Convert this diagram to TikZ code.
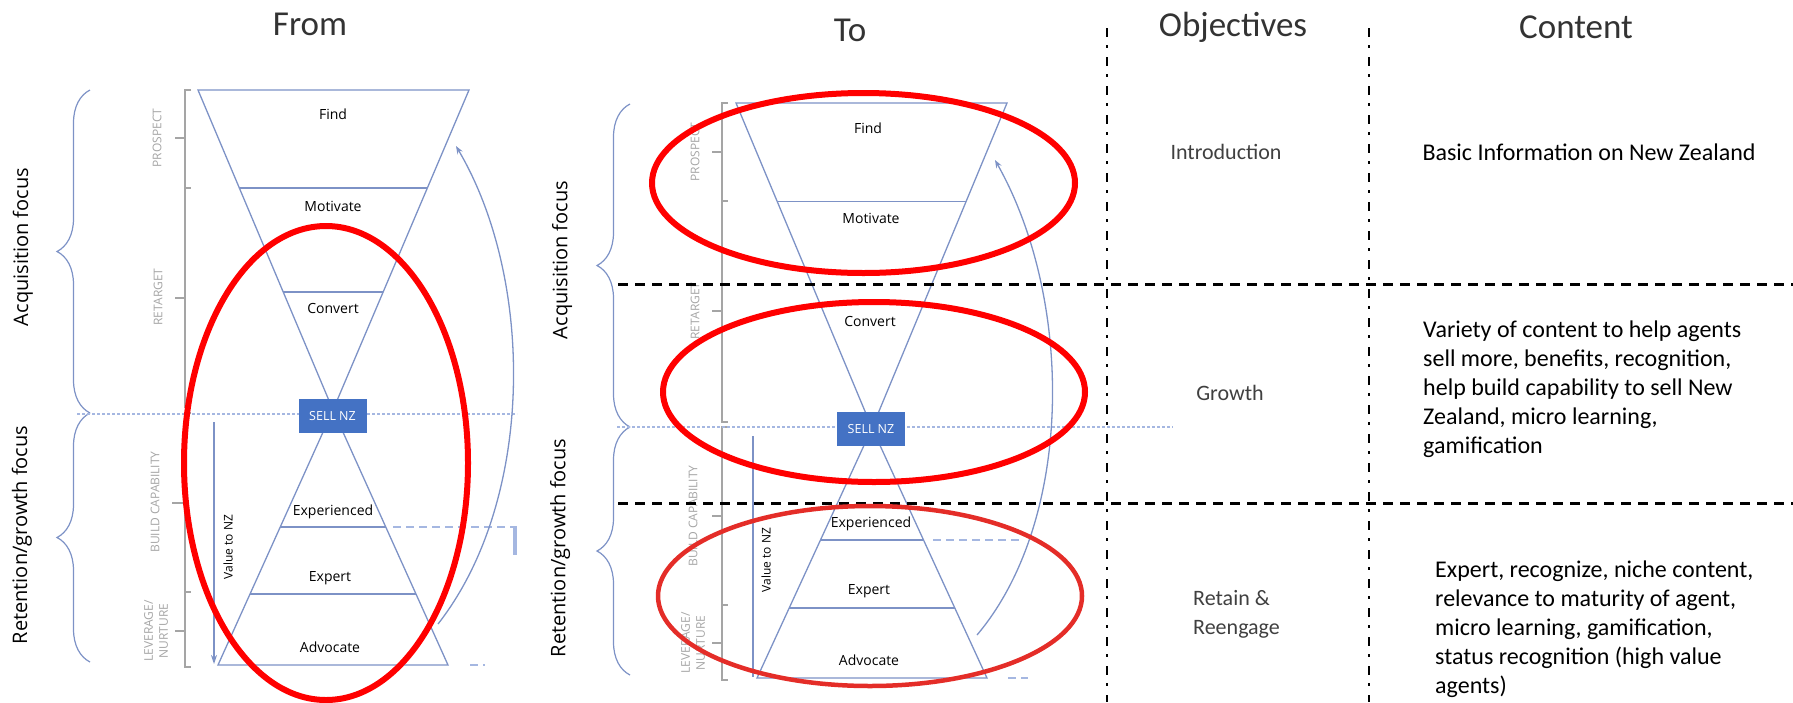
\documentclass[tikz,border=0pt]{standalone}
\usepackage{fontspec}
\setmainfont{Open Sans}
\newfontfamily\carl{Carlito}
\usetikzlibrary{calc,decorations.pathreplacing,arrows.meta}
\definecolor{funblue}{RGB}{125,146,198}
\definecolor{sellblue}{RGB}{68,114,196}
\definecolor{stagegray}{RGB}{165,165,165}
\definecolor{dotblue}{RGB}{165,183,225}
\definecolor{ringred}{RGB}{255,0,0}
\definecolor{ringred2}{RGB}{228,45,40}
\begin{document}
\begin{tikzpicture}[x=1pt,y=-1pt,
  funline/.style={draw=funblue, line width=1.3pt},
  backarrow/.style={draw=funblue, line width=1.3pt, -{Stealth[length=8pt,width=6pt]}},
  stagebar/.style={draw=stagegray, line width=1.2pt},
  stagetxt/.style={text=stagegray, font=\fontsize{12}{15}\selectfont, rotate=90, align=center, inner sep=0pt},
  steplbl/.style={font=\fontsize{14}{17}\selectfont, inner sep=0pt},
  focustxt/.style={font=\fontsize{20}{24}\selectfont, rotate=90, inner sep=0pt},
  focusbrace/.style={draw=funblue, line width=1.2pt, decorate, decoration={brace, amplitude=33pt}},
  sellbox/.style={fill=sellblue, text=white, minimum width=68pt, minimum height=34pt, inner sep=0pt, font=\fontsize{12.5}{15}\selectfont},
  valuetxt/.style={font=\fontsize{12}{15}\selectfont, rotate=90, inner sep=0pt},
  sellline/.style={draw=dotblue, line width=1.2pt, dash pattern=on 3pt off 2pt},
  levelline/.style={draw=dotblue, line width=1.5pt, dash pattern=on 8pt off 5pt},
  ring/.style={draw=ringred, line width=6pt},
  gridline/.style={draw=black, line width=3pt, dash pattern=on 10pt off 7pt},
  colline/.style={draw=black, line width=2.5pt, dash pattern=on 9pt off 8pt on 3pt off 9pt},
  header/.style={font=\carl\fontsize{35}{40}\selectfont, text=black!80, inner sep=0pt},
  objtxt/.style={font=\carl\fontsize{22}{29}\selectfont, text=black!75, align=left, inner sep=0pt},
  contenttxt/.style={font=\carl\fontsize{24}{29}\selectfont, align=left, inner sep=0pt}]
\useasboundingbox (0,0) rectangle (1793,702);

\node[header] (hfrom) at (310,24) {From};
\node[header] (hto) at (850,30) {To};
\node[header] (hobj) at (1233,27) {Objectives};
\node[header] (hcont) at (1576,27) {Content};

\draw[focusbrace] (90,413) -- (90,90);
\draw[focusbrace] (90,662) -- (90,413);
\node[focustxt] (facq) at (23,247) {Acquisition focus};
\node[focustxt] (fret) at (22,535) {Retention/growth focus};

\draw[stagebar] (191,90) -- (185,90) -- (185,407) -- (191,407);
\draw[stagebar] (185,188) -- (191,188);
\draw[stagebar] (175,138) -- (185,138);
\draw[stagebar] (175,298) -- (185,298);
\draw[stagebar] (191,413) -- (185,413) -- (185,667) -- (191,667);
\draw[stagebar] (185,592) -- (191,592);
\draw[stagebar] (172,503) -- (185,503);
\draw[stagebar] (175,631) -- (185,631);
\node[stagetxt] (fpros) at (157,138) {PROSPECT};
\node[stagetxt] (fretg) at (158,297) {RETARGET};
\node[stagetxt] (fbuild) at (155,502) {BUILD CAPABILITY};
\node[stagetxt] (flev) at (156,631) {LEVERAGE/\\NURTURE};

\coordinate (ftl) at (198,90);
\coordinate (ftr) at (469,90);
\coordinate (fmid) at (333,410);
\coordinate (fbl) at (218,665);
\coordinate (fbr) at (448,665);
\draw[funline] (fmid) -- (ftl) -- (ftr) -- cycle;
\draw[funline] (fmid) -- (fbl) -- (fbr) -- cycle;
\draw[funline] ($(fmid)!0.694!(ftl)$) -- ($(fmid)!0.694!(ftr)$);
\draw[funline] ($(fmid)!0.369!(ftl)$) -- ($(fmid)!0.369!(ftr)$);
\draw[funline] ($(fmid)!0.459!(fbl)$) -- ($(fmid)!0.459!(fbr)$);
\draw[funline] ($(fmid)!0.722!(fbl)$) -- ($(fmid)!0.722!(fbr)$);
\draw[levelline] (393,527) -- (517,527);
\draw[draw=dotblue, line width=4pt] (515,527) -- (515,555);
\draw[levelline] (470,665) -- (485,665);
\draw[sellline] (77,414) -- (517,414);
\node[sellbox] (fsell) at (332.5,416) {SELL NZ};

\node[steplbl] (ffind) at (333,114) {Find};
\node[steplbl] (fmot) at (333,206) {Motivate};
\node[steplbl] (fconv) at (333,308) {Convert};
\node[steplbl] (fexp) at (333,512) {Experienced};
\node[steplbl] (fexpert) at (330,578) {Expert};
\node[steplbl] (fadv) at (330,647) {Advocate};

\coordinate (fvtop) at (214,422);
\coordinate (fvbot) at (214,664);
\draw[funline, -{Stealth[length=9pt,width=6pt]}] (fvtop) -- (fvbot);
\node[valuetxt] (fvalue) at (228,547) {Value to NZ};
\coordinate (fcurvea) at (438,624);
\coordinate (fcurveb) at (456,146);
\draw[backarrow] (fcurvea) .. controls (535,500) and (535,280) .. (fcurveb);

\draw[focusbrace] (630,427) -- (630,104);
\draw[focusbrace] (630,675) -- (630,427);
\node[focustxt] (tacq) at (562,260) {Acquisition focus};
\node[focustxt] (tret) at (560,548) {Retention/growth focus};

\draw[stagebar] (728,103) -- (722,103) -- (722,422) -- (728,422);
\draw[stagebar] (722,201) -- (728,201);
\draw[stagebar] (712,152) -- (722,152);
\draw[stagebar] (712,311) -- (722,311);
\draw[stagebar] (728,427) -- (722,427) -- (722,680) -- (728,680);
\draw[stagebar] (722,605) -- (728,605);
\draw[stagebar] (712,516) -- (722,516);
\draw[stagebar] (712,643) -- (722,643);
\node[stagetxt] (tpros) at (695,152) {PROSPECT};
\node[stagetxt] (tretg) at (695,311) {RETARGET};
\node[stagetxt] (tbuild) at (693,516) {BUILD CAPABILITY};
\node[stagetxt] (tlev) at (693,643) {LEVERAGE/\\NURTURE};

\coordinate (ttl) at (736,103);
\coordinate (ttr) at (1007,103);
\coordinate (tmid) at (872,428);
\coordinate (tbl) at (757,678);
\coordinate (tbr) at (987,678);
\draw[funline] (tmid) -- (ttl) -- (ttr) -- cycle;
\draw[funline] (tmid) -- (tbl) -- (tbr) -- cycle;
\draw[funline] ($(tmid)!0.698!(ttl)$) -- ($(tmid)!0.698!(ttr)$);
\draw[funline] ($(tmid)!0.448!(tbl)$) -- ($(tmid)!0.448!(tbr)$);
\draw[funline] ($(tmid)!0.72!(tbl)$) -- ($(tmid)!0.72!(tbr)$);
\draw[levelline] (933,540) -- (1023,540);
\draw[levelline] (1008,678) -- (1028,678);
\draw[sellline] (617,427) -- (1173,427);
\node[sellbox] (tsell) at (871,429) {SELL NZ};

\node[steplbl] (tfind) at (868,128) {Find};
\node[steplbl] (tmot) at (871,218) {Motivate};
\node[steplbl] (tconv) at (870,321) {Convert};
\node[steplbl] (texp) at (871,524) {Experienced};
\node[steplbl] (texpert) at (869,591) {Expert};
\node[steplbl] (tadv) at (869,660) {Advocate};

\coordinate (tvtop) at (753,436);
\coordinate (tvbot) at (753,677);
\draw[funline] (tvtop) -- (tvbot);
\node[valuetxt] (tvalue) at (766,560) {Value to NZ};
\coordinate (tcurvea) at (977,635);
\coordinate (tcurveb) at (995,160);
\draw[backarrow] (tcurvea) .. controls (1074,520) and (1074,300) .. (tcurveb);

\draw[gridline] (618,284) -- (1793,284);
\draw[gridline] (618,503) -- (1793,503);
\draw[colline] (1107,28) -- (1107,702);
\draw[colline] (1369,28) -- (1369,702);

\node[objtxt] (intro) at (1226,152) {Introduction};
\node[objtxt] (growth) at (1230,393) {Growth};
\node[objtxt, anchor=west] (retain) at (1193,614) {Retain \&\\Reengage};
\node[contenttxt] (basic) at (1589,152) {Basic Information on New Zealand};
\node[contenttxt, anchor=west] (variety) at (1423,389) {Variety of content to help agents\\sell more, benefits, recognition,\\help build capability to sell New\\Zealand, micro learning,\\gamification};
\node[contenttxt, anchor=west] (expertc) at (1435,629) {Expert, recognize, niche content,\\relevance to maturity of agent,\\micro learning, gamification,\\status recognition (high value\\agents)};

\draw[ring] (326,463) ellipse [x radius=142pt, y radius=237pt];
\draw[ring] (863.5,183) ellipse [x radius=211.5pt, y radius=90pt];
\draw[ring] (874,392) ellipse [x radius=211pt, y radius=90pt];
\draw[ring, draw=ringred2, line width=4.5pt] (870,596) ellipse [x radius=212pt, y radius=90pt];
\end{tikzpicture}
\end{document}
